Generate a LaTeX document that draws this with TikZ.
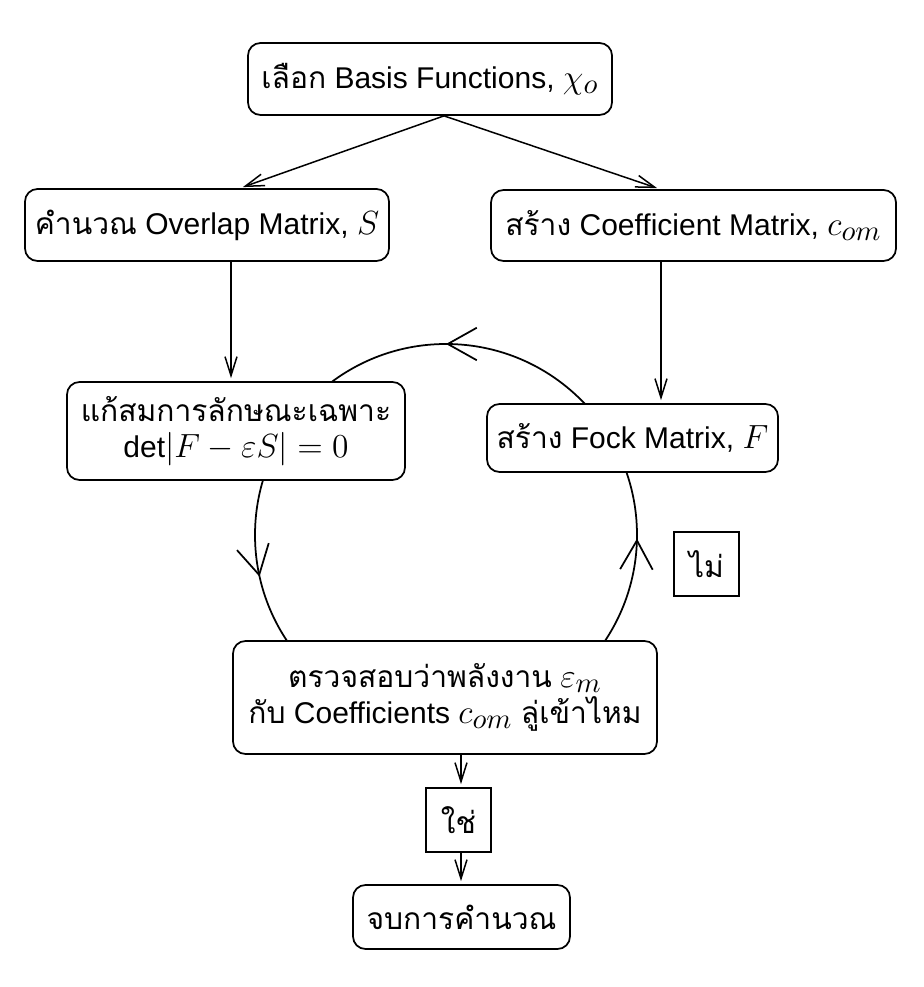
\RequirePackage{fix-cm}
\documentclass[tikz,border=0pt]{standalone}
\usepackage[no-math]{fontspec}
\setmainfont{Liberation Sans}
\newfontfamily\thaifont[Script=Thai]{Loma}
\newcommand{\thai}[1]{{\thaifont #1}}
\DeclareMathSizes{12}{13.4}{11.4}{9}
\usetikzlibrary{arrows.meta,decorations.markings}

\tikzset{
    box/.style={draw, line width=0.7pt, rounded corners=5pt, fill=white, align=center,
        inner sep=0pt, font=\fontsize{12}{14.5}\selectfont},
    answer/.style={draw, line width=0.7pt, fill=white, inner sep=0pt,
        minimum width=26pt, minimum height=25.6pt, font=\fontsize{12}{14.5}\selectfont},
    flow/.style={line width=0.6pt, -{Straight Barb[length=7.6pt,width=4.8pt]}, shorten >=1.2pt},
}

\begin{document}
\begin{tikzpicture}[x=0.4pt, y=0.4pt]

    \useasboundingbox (0, 0) rectangle (924, 987);

    % the iteration loop, drawn behind the boxes
    \draw[line width=0.7pt, postaction={decorate}, decoration={markings,
            mark=at position 0.247 with {\arrow{Straight Barb[length=11.6pt,width=13pt]}},
            mark=at position 0.5 with {\arrow{Straight Barb[length=11.6pt,width=13pt]}},
            mark=at position 0.785 with {\arrow{Straight Barb[length=11.6pt,width=13pt]}}}]
        (446, 261) arc[start angle=-90, end angle=270, radius=191];

    \node[box, minimum width=145.6pt, minimum height=28.8pt] (basis) at (430, 908)
        {\thai{เลือก} Basis Functions, $\chi_o$};
    \node[box, minimum width=145.6pt, minimum height=28.8pt] (overlap) at (207, 762)
        {\thai{คำนวณ} Overlap Matrix, $S$};
    \node[box, minimum width=162pt, minimum height=28.4pt] (coef) at (693.5, 761.5)
        {\thai{สร้าง} Coefficient Matrix, $c_{om}$};
    \node[box, minimum width=135.2pt, minimum height=39.2pt] (solve) at (236, 556)
        {\thai{แก้สมการลักษณะเฉพาะ}\\ det$|F-\varepsilon S| = 0$};
    \node[box, minimum width=116.4pt, minimum height=27.2pt] (fock) at (632.5, 549)
        {\thai{สร้าง} Fock Matrix, $F$};
    \node[box, minimum width=169.6pt, minimum height=45.2pt] (check) at (445, 289.5)
        {\thai{ตรวจสอบว่าพลังงาน} $\varepsilon_m$\\ \thai{กับ} Coefficients $c_{om}$ \thai{ลู่เข้าไหม}};
    \node[answer] (no) at (706.5, 423) {\thai{ไม่}};
    \node[answer] (yes) at (458.5, 167) {\thai{ใช่}};
    \node[box, minimum width=86.8pt, minimum height=25.6pt] (finish) at (461.5, 70)
        {\thai{จบการคำนวณ}};

    \draw[flow] ([xshift=5.6pt]basis.south) -- ([xshift=13.2pt]overlap.north);
    \draw[flow] ([xshift=5.6pt]basis.south) -- ([xshift=-13.4pt]coef.north);
    \draw[flow] ([xshift=9.6pt]overlap.south) -- ([xshift=9.6pt]overlap.south |- solve.north);
    \draw[flow] ([xshift=-13pt]coef.south) -- ([xshift=-13pt]coef.south |- fock.north);
    \draw[flow] ([xshift=6.4pt]check.south) -- ([xshift=6.4pt]check.south |- yes.north);
    \draw[flow] ([xshift=6.4pt]check.south |- yes.south) -- ([xshift=6.4pt]check.south |- finish.north);

\end{tikzpicture}
\end{document}
